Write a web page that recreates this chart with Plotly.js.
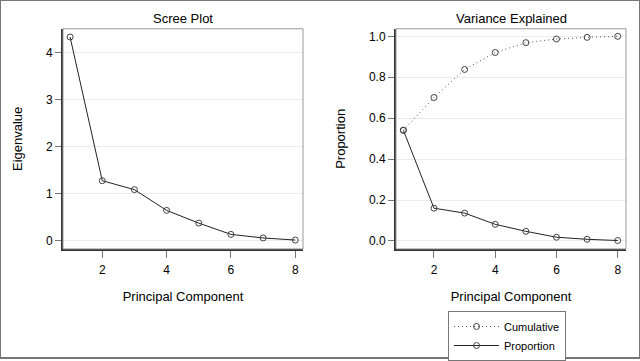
<!DOCTYPE html>
<html>
<head>
<meta charset="utf-8">
<script src="https://cdn.plot.ly/plotly-3.0.1.min.js"></script>
<style>html,body{margin:0;padding:0;background:#fff;}#chart{width:640px;height:361px;}</style>
</head>
<body>
<div id="chart"></div>
<script>
var components = [1, 2, 3, 4, 5, 6, 7, 8];
var eigenvalues = [4.33, 1.28, 1.09, 0.65, 0.38, 0.14, 0.065, 0.02];
var proportion = [0.541, 0.160, 0.136, 0.081, 0.047, 0.018, 0.008, 0.002];
var cumulative = [0.541, 0.701, 0.838, 0.921, 0.969, 0.987, 0.995, 1.000];
var leftTicks = [0, 1, 2, 3, 4];
var rightTicks = [0, 0.2, 0.4, 0.6, 0.8, 1.0];
var xTicks = [2, 4, 6, 8];

var FONT = 'Liberation Sans, Arial, sans-serif';
var markerStyle = {symbol: 'circle-open', size: 6, color: '#444', line: {width: 1, color: '#444'}};

var traces = [
  {x: components, y: eigenvalues, xaxis: 'x', yaxis: 'y', mode: 'lines+markers',
   line: {color: '#222', width: 1}, marker: markerStyle, showlegend: false, name: 'Eigenvalue'},
  {x: components, y: cumulative, xaxis: 'x2', yaxis: 'y2', mode: 'lines+markers',
   line: {color: '#555', width: 1, dash: '1px,3px'}, marker: markerStyle, name: 'Cumulative'},
  {x: components, y: proportion, xaxis: 'x2', yaxis: 'y2', mode: 'lines+markers',
   line: {color: '#222', width: 1}, marker: markerStyle, name: 'Proportion'}
];

function xax(dom, range, anchor) {
  return {domain: dom, range: range, anchor: anchor, tickvals: xTicks, ticks: 'outside', ticklen: 7,
    tickcolor: '#777', showline: true, linecolor: '#333', linewidth: 2, showgrid: false, zeroline: false,
    ticklabelstandoff: 2,
    tickfont: {family: FONT, size: 12, color: '#000'},
    title: {text: 'Principal Component', font: {family: FONT, size: 13, color: '#000'}, standoff: 16}};
}
function yax(dom, range, anchor, ticks, fmt) {
  return {domain: dom, range: range, anchor: anchor, tickvals: ticks, tickformat: fmt, ticks: 'outside', ticklen: 6,
    tickcolor: '#777', showline: true, linecolor: '#333', linewidth: 2, showgrid: true, gridcolor: '#ebebeb',
    zeroline: false, tickfont: {family: FONT, size: 12, color: '#000'}};
}

var layout = {
  width: 640, height: 361, margin: {l: 0, r: 0, t: 0, b: 0},
  paper_bgcolor: '#fff', plot_bgcolor: '#fff',
  xaxis: xax([63/640, 303/640], [0.78, 8.24], 'y'),
  yaxis: Object.assign(yax([1-251/361, 1-29/361], [-0.168, 4.505], 'x', leftTicks, ''),
    {title: {text: 'Eigenvalue', font: {family: FONT, size: 13, color: '#000'}, standoff: 20}}),
  xaxis2: xax([396/640, 626/640], [0.76, 8.27], 'y2'),
  yaxis2: Object.assign(yax([1-251/361, 1-29/361], [-0.039, 1.037], 'x2', rightTicks, '.1f'),
    {title: {text: 'Proportion', font: {family: FONT, size: 13, color: '#000'}, standoff: 20}}),
  showlegend: true,
  legend: {x: 448/640, y: 1-314/361, xanchor: 'left', yanchor: 'top', bgcolor: '#fff',
    bordercolor: '#777', borderwidth: 1, font: {family: FONT, size: 11, color: '#000'}, tracegroupgap: 0,
    itemwidth: 45},
  annotations: [
    {text: 'Scree Plot', xref: 'paper', yref: 'paper', x: 183/640, y: 1-19/361, xanchor: 'center', yanchor: 'middle',
     showarrow: false, font: {family: FONT, size: 13, color: '#000'}},
    {text: 'Variance Explained', xref: 'paper', yref: 'paper', x: 511/640, y: 1-19/361, xanchor: 'center', yanchor: 'middle',
     showarrow: false, font: {family: FONT, size: 13, color: '#000'}}
  ],
  shapes: [
    {type: 'rect', xref: 'x domain', yref: 'y domain', x0: 0, x1: 1, y0: 0, y1: 1, line: {color: '#999', width: 1}},
    {type: 'rect', xref: 'x2 domain', yref: 'y2 domain', x0: 0, x1: 1, y0: 0, y1: 1, line: {color: '#999', width: 1}},
    {type: 'rect', xref: 'paper', yref: 'paper', x0: 0, x1: 1, y0: 0, y1: 1, line: {color: '#777', width: 2}}
  ]
};

Plotly.newPlot('chart', traces, layout, {displayModeBar: false, staticPlot: true});
</script>
</body>
</html>
